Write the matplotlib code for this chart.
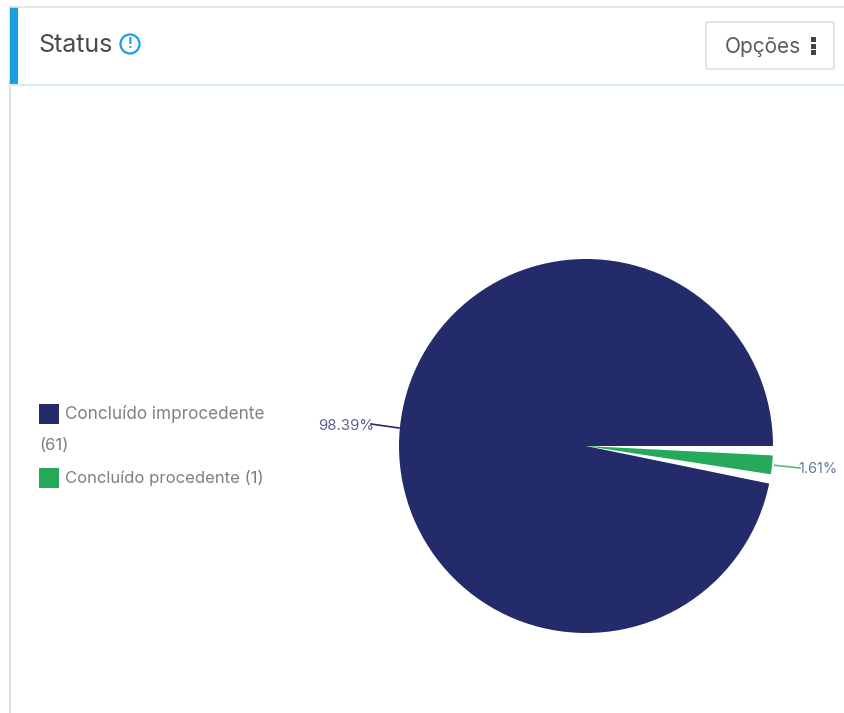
import matplotlib
matplotlib.use("Agg")
import matplotlib.pyplot as plt
from matplotlib.patches import Circle, FancyBboxPatch, Rectangle

plt.rcParams['font.family'] = ['Inter', 'DejaVu Sans']

W, H = 844, 713

status_names = ['Concluído improcedente', 'Concluído procedente']
status_counts = [61, 1]
status_colors = ['#232B6B', '#27A95B']
pct_labels = ['98.39%', '1.61%']


def fy(y):
    # pixel rows count from the top, the axes from the bottom
    return H - y


fig = plt.figure(figsize=(W / 100, H / 100), dpi=100)
ax = fig.add_axes([0, 0, 1, 1])

# pie: green slice sits on a white slice twice as wide, that is the gap in the navy
total = sum(status_counts)
n_green = status_counts[1]
green_deg = 360 * n_green / total
mid = -5.8
center = (586, fy(446))
radius = 187
ax.pie([status_counts[0]], colors=status_colors[:1], center=center, radius=radius,
       startangle=0, frame=True, wedgeprops={'linewidth': 0})
ax.pie([n_green * 2, total - n_green * 2], colors=['white', 'none'],
       center=center, radius=radius + 2, startangle=mid - green_deg, frame=True,
       wedgeprops={'linewidth': 0, 'zorder': 3})
ax.pie([n_green, total - n_green], colors=[status_colors[1], 'none'],
       center=center, radius=radius, startangle=mid - green_deg / 2, frame=True,
       wedgeprops={'linewidth': 0, 'zorder': 4})

# fix the limits again, the pie calls touch them
ax.set_xlim(0, W)
ax.set_ylim(0, H)
ax.set_aspect('auto')
ax.axis('off')

# card frame
ax.add_patch(Rectangle((9, 0), 1.5, fy(7), fc='#dddddd', ec='none'))
ax.plot([10, W], [fy(6.5), fy(6.5)], color='#e2e2e2', lw=1.2)
ax.plot([10, W], [fy(85), fy(85)], color='#d6ebf2', lw=1.5)
ax.add_patch(Rectangle((10, fy(85)), 7.5, 78, fc='#1B9FE3', ec='none'))

ax.text(38.5, fy(46), 'Status', fontsize=18, color='#4a4a4a', va='center', ha='left')
ax.add_patch(Circle((130, fy(44)), 9.5, fc='white', ec='#1B9FE3', lw=1.6))
ax.text(130, fy(44), '!', fontsize=10, color='#1B9FE3', va='center', ha='center',
        fontweight='bold')

# options button
ax.add_patch(FancyBboxPatch((708, fy(67)), 124, 43, boxstyle='round,pad=2',
                            fc='white', ec='#d4d4d4', lw=0.9))
ax.text(725, fy(47), 'Opções', fontsize=15, color='#5c5c5c', va='center', ha='left')
for dot_y in [39.5, 46, 52]:
    ax.add_patch(Rectangle((811, fy(dot_y + 2.5)), 5, 5, fc='#444444', ec='none'))

# legend
ax.add_patch(Rectangle((39, fy(424)), 20, 20, fc=status_colors[0], ec='none'))
ax.add_patch(Rectangle((39, fy(488)), 20, 20, fc=status_colors[1], ec='none'))
ax.text(65, fy(414), status_names[0], fontsize=12.3, color='#808080', va='center')
ax.text(39, fy(446), '(%d)' % status_counts[0], fontsize=12, color='#808080', va='center')
ax.text(65, fy(478), '%s (%d)' % (status_names[1], status_counts[1]), fontsize=12,
        color='#808080', va='center')

# percent labels with leader lines
ax.plot([371, 399], [fy(424), fy(428)], color=status_colors[0], lw=1.2, zorder=2)
ax.text(318, fy(426), pct_labels[0], fontsize=10.8, color='#5b6190', va='center', zorder=5)
ax.plot([772, 800], [fy(465), fy(468)], color=status_colors[1], lw=1.2, alpha=0.8)
ax.text(798, fy(469), pct_labels[1], fontsize=10.5, color='#66799a', va='center', zorder=5)

fig.savefig('out.png', dpi=100)
